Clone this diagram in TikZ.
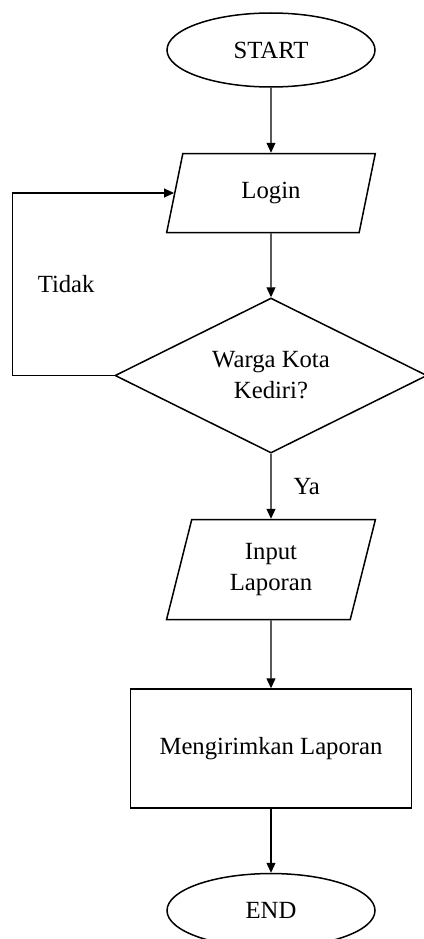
\documentclass[tikz,border=0pt]{standalone}
\usepackage{fontspec}
\setmainfont{Liberation Serif}
\usetikzlibrary{arrows.meta,positioning,shapes.geometric}

\begin{document}
\begin{tikzpicture}[x=1pt,y=1pt,
 font=\fontsize{24.7}{31}\selectfont,
 term/.style={draw,line width=1.5pt,ellipse,minimum width=208pt,minimum height=74pt,inner sep=0pt},
 io/.style={draw,line width=1.5pt,trapezium,trapezium left angle=76,trapezium right angle=104,
   trapezium stretches=true,minimum width=209pt,align=center,inner sep=0pt},
 decision/.style={draw,line width=1.5pt,diamond,aspect=2,minimum width=312pt,minimum height=155pt,
   align=center,inner sep=0pt},
 process/.style={draw,line width=1.5pt,minimum width=281pt,minimum height=119pt},
 arrow/.style={-{Triangle[length=10pt,width=9pt]},line width=1.1pt},
 lbl/.style={inner sep=0pt}]
\useasboundingbox (0,0) rectangle (423,-939);
\node[term] (start) at (271,-50) {START};
\node[io,minimum height=79pt,below=65pt of start] (login) {Login};
\node[decision,below=64pt of login] (cek) {Warga Kota\\Kediri?};
\node[io,minimum height=100pt,below=65pt of cek] (input) {Input\\Laporan};
\node[process,below=68pt of input] (kirim) {Mengirimkan Laporan};
\node[term,below=64pt of kirim] (end) {END};
\coordinate (balik) at ([xshift=-102pt]cek.west);
\draw[arrow] (start)--(login);\draw[arrow] (login)--(cek);
\draw[arrow] (cek)--(input) node[lbl,midway,right=22pt] (ya) {Ya};
\draw[arrow] (input)--(kirim);\draw[arrow] (kirim)--(end);
\draw[arrow] (cek.west)--(balik) |- (login.west) node[lbl,pos=0.25,right=25pt] (tidak) {Tidak};
\end{tikzpicture}
\end{document}
